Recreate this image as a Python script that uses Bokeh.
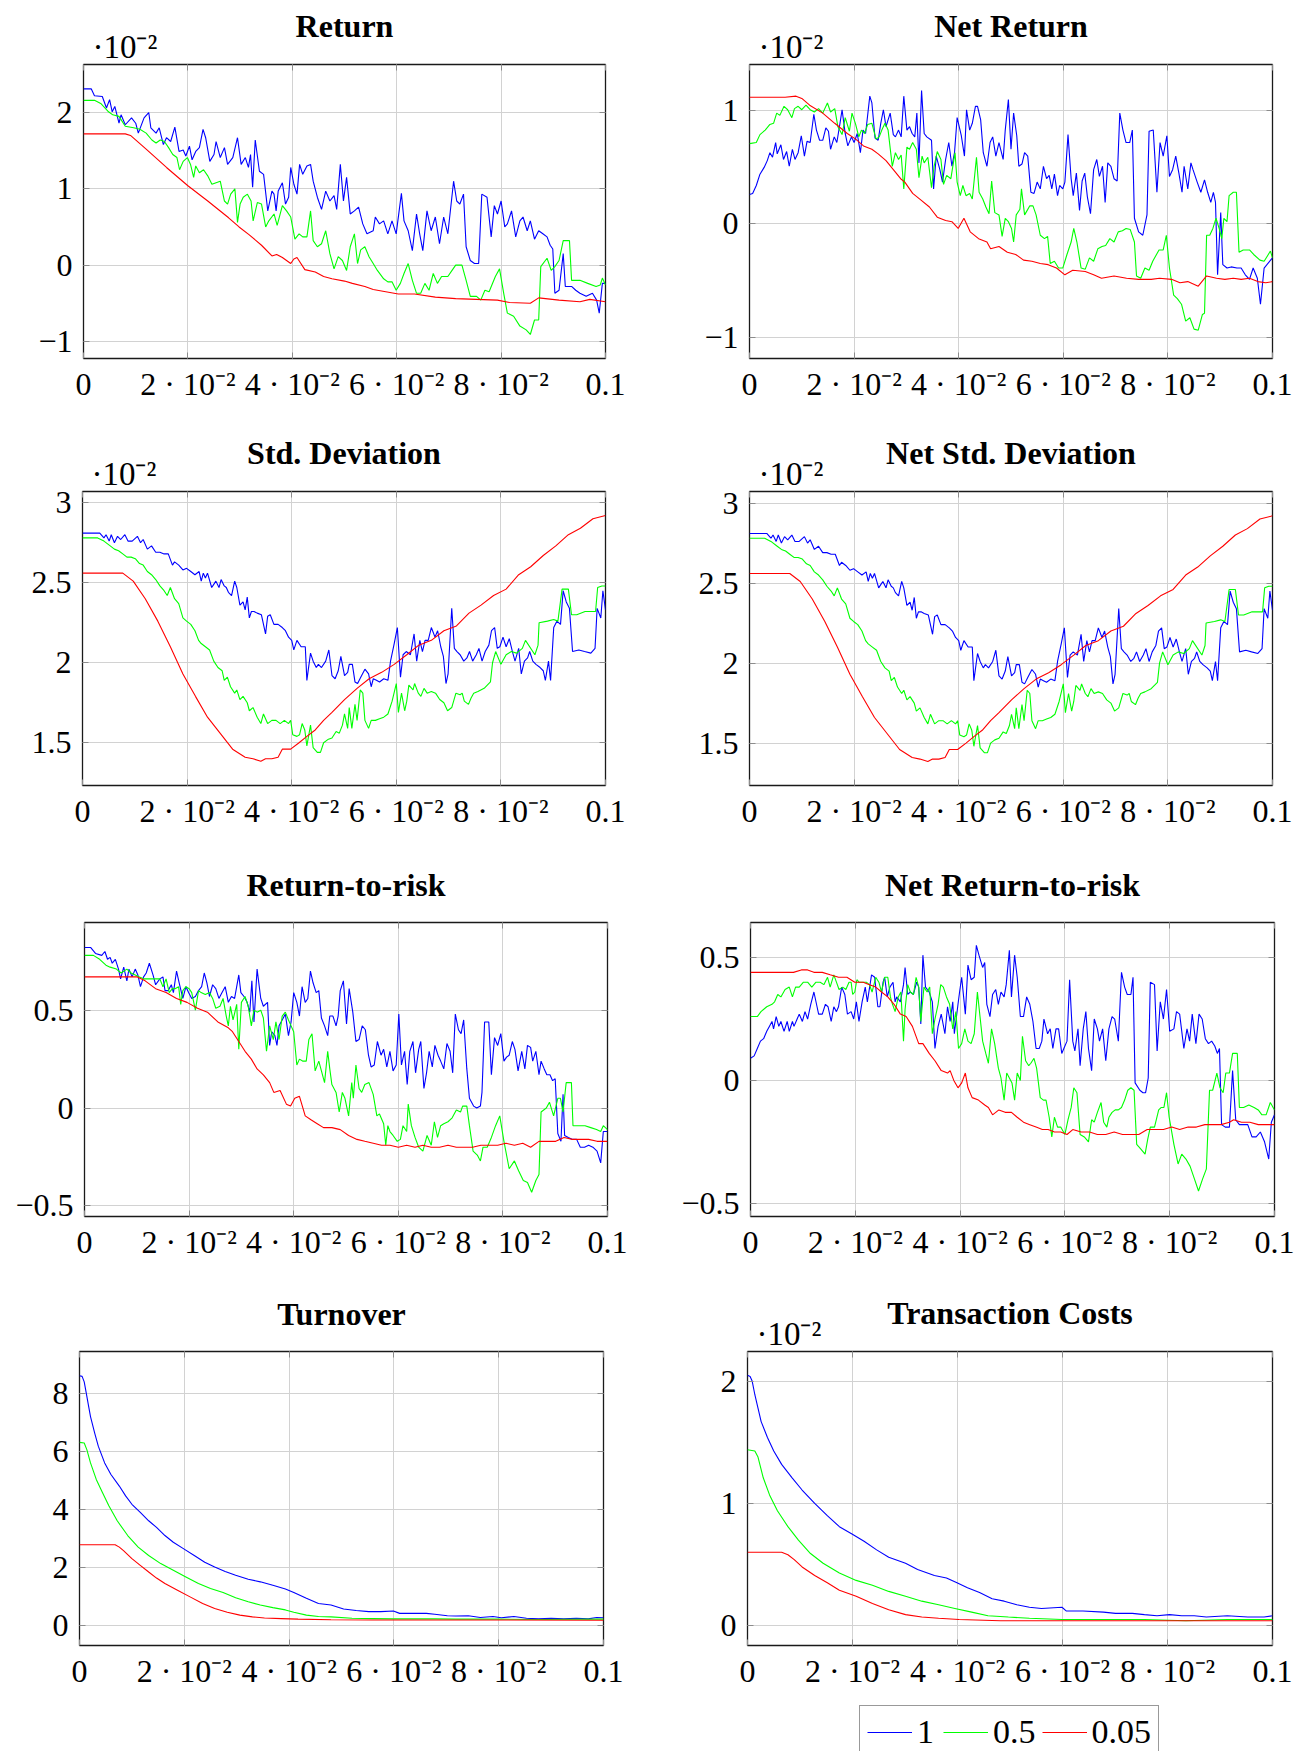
from bokeh.plotting import figure
from bokeh.models import Range1d, FixedTicker, Legend, LegendItem, LinearAxis, Title, Spacer
from bokeh.layouts import column, row
from bokeh.embed import file_html
from bokeh.resources import INLINE

FONT = "Liberation Serif"
BLUE, GREEN, RED = "#0000ff", "#00ff00", "#ff0000"

X_TICKS = [0, 0.02, 0.04, 0.06, 0.08, 0.1]
X_LABELS = ["0", "2 · 10⁻²", "4 · 10⁻²", "6 · 10⁻²", "8 · 10⁻²", "0.1"]
SERIES_NAMES = ["1", "0.5", "0.05"]
EXPONENT = "·10⁻²"

# ---- data: (x in thousandths, value as read on the axis) ----
RET_B = [(0,2.31),(1.5,2.31),(2.1,2.22),(3.6,2.21),(4.4,2.06),(5.0,2.17),(5.5,2.01),(6.0,2.08),(6.8,1.86),(7.2,1.97),(8.0,1.84),(9.2,1.93),(10.0,1.86),(10.5,1.73),(11.6,1.93),(12.5,2.00),(12.9,1.80),(13.9,1.73),(14.5,1.80),(15.3,1.58),(15.9,1.67),(16.7,1.62),(17.5,1.81),(18.3,1.49),(19.1,1.51),(19.6,1.43),(20.3,1.56),(20.8,1.38),(21.5,1.49),(22.2,1.54),(22.9,1.78),(23.4,1.67),(24.2,1.36),(25.0,1.45),(25.4,1.62),(26.2,1.41),(27.0,1.54),(27.6,1.32),(28.6,1.41),(29.5,1.67),(30.2,1.32),(31.0,1.41),(31.6,1.28),(32.0,1.45),(32.4,1.02),(32.9,1.64),(33.7,1.23),(34.5,1.19),(35.3,0.71),(36.1,0.97),(36.5,0.93),(36.9,0.71),(37.3,0.97),(38.1,1.08),(38.7,0.80),(39.3,0.89),(39.7,1.28),(40.3,1.06),(40.9,0.93),(41.4,1.32),(42.0,1.19),(42.8,1.30),(43.5,1.32),(44.0,1.10),(44.8,0.89),(45.6,0.73),(46.4,0.97),(47.2,0.84),(48.0,0.91),(48.5,0.73),(49.2,1.32),(49.8,0.84),(50.4,1.15),(51.1,0.67),(51.9,0.71),(52.7,0.76),(53.5,0.54),(54.3,0.41),(55.5,0.45),(55.9,0.63),(56.7,0.54),(57.5,0.58),(58.3,0.41),(59.1,0.58),(59.9,0.41),(60.9,0.94),(61.4,0.58),(62.2,0.45),(63.0,0.19),(63.8,0.67),(64.4,0.41),(65.0,0.19),(65.8,0.71),(66.6,0.45),(67.4,0.63),(68.2,0.28),(69.0,0.63),(69.8,0.41),(70.9,1.10),(71.5,0.84),(72.1,0.80),(72.8,0.93),(73.3,0.24),(74.1,0.06),(74.9,0.02),(75.7,0.02),(76.3,0.93),(77.3,0.89),(78.1,0.37),(78.7,0.78),(79.3,0.67),(80.0,0.84),(80.7,0.50),(81.2,0.54),(82.0,0.71),(82.8,0.37),(83.6,0.58),(84.2,0.63),(85.0,0.45),(85.6,0.58),(86.4,0.34),(87.2,0.45),(88.0,0.41),(88.8,0.37),(89.4,0.26),(89.9,0.21),(90.3,-0.37),(91.1,-0.33),(91.9,0.15),(92.3,-0.28),(93.5,-0.28),(94.3,-0.33),(95.1,-0.37),(96.3,-0.41),(97.5,-0.37),(98.3,-0.46),(98.8,-0.63),(99.4,-0.24),(100,-0.24)]
RET_G = [(0,2.16),(2.1,2.16),(3.3,2.12),(4.8,2.01),(5.6,1.97),(6.8,1.95),(8.0,1.82),(9.6,1.80),(10.8,1.78),(12.0,1.73),(13.1,1.64),(13.9,1.60),(14.7,1.64),(15.5,1.62),(16.3,1.54),(17.1,1.45),(17.9,1.41),(18.4,1.25),(19.1,1.36),(19.9,1.41),(20.5,1.32),(21.1,1.15),(21.5,1.30),(22.2,1.21),(23.0,1.25),(23.8,1.17),(24.6,1.06),(25.4,1.08),(26.2,1.10),(27.0,0.84),(27.6,0.80),(28.2,0.93),(29.0,1.00),(29.5,0.56),(30.0,0.80),(30.6,0.89),(31.4,0.93),(32.1,0.84),(32.5,0.58),(33.3,0.82),(34.1,0.80),(34.9,0.50),(35.5,0.58),(36.5,0.67),(37.1,0.52),(38.1,0.78),(38.9,0.71),(39.7,0.63),(40.5,0.34),(41.3,0.41),(42.0,0.37),(42.8,0.37),(43.5,0.71),(44.0,0.32),(44.8,0.24),(45.6,0.28),(46.4,0.45),(47.2,0.15),(48.0,-0.05),(48.8,0.11),(49.6,0.06),(50.4,-0.07),(51.1,0.24),(51.9,0.41),(52.5,0.02),(53.1,0.20),(53.9,0.24),(54.7,0.11),(55.5,0.02),(56.3,-0.07),(57.5,-0.18),(58.3,-0.22),(59.1,-0.22),(59.9,-0.33),(60.7,-0.24),(61.4,-0.11),(62.2,0.02),(63.0,-0.20),(63.8,-0.37),(64.6,-0.37),(65.4,-0.24),(66.2,-0.33),(67.0,-0.11),(67.8,-0.24),(68.6,-0.15),(69.8,-0.15),(70.6,-0.07),(71.3,0.00),(72.5,0.00),(73.3,-0.20),(74.1,-0.41),(75.3,-0.41),(76.1,-0.46),(76.9,-0.33),(77.7,-0.35),(78.9,-0.15),(79.7,-0.05),(80.5,-0.37),(81.2,-0.63),(82.4,-0.67),(83.6,-0.80),(84.8,-0.85),(85.6,-0.91),(86.4,-0.72),(87.2,-0.72),(87.6,-0.02),(88.8,0.09),(89.6,-0.07),(90.3,-0.02),(91.1,0.06),(91.9,0.32),(93.1,0.32),(93.5,-0.20),(95.1,-0.20),(96.6,-0.24),(98.2,-0.28),(99.0,-0.26),(99.4,-0.17),(100,-0.26)]
RET_R = [(0,1.72),(8.0,1.72),(9.0,1.70),(12.0,1.52),(15.9,1.28),(20.0,1.04),(23.8,0.84),(27.8,0.62),(29.8,0.50),(31.7,0.40),(34.1,0.26),(36.1,0.12),(37.0,0.14),(38.1,0.10),(39.7,0.02),(40.3,0.08),(40.9,0.10),(42.4,-0.06),(44.4,-0.09),(46.0,-0.15),(47.6,-0.18),(50.0,-0.21),(51.5,-0.24),(53.9,-0.28),(55.5,-0.32),(57.9,-0.35),(60.3,-0.38),(63.4,-0.38),(67.4,-0.42),(71.3,-0.44),(75.3,-0.45),(79.3,-0.46),(81.6,-0.49),(85.6,-0.50),(87.2,-0.43),(91.1,-0.46),(95.1,-0.48),(97.0,-0.45),(100,-0.48)]

NRET_B = [(0,0.26),(0.6,0.27),(1.3,0.34),(2.0,0.44),(2.8,0.50),(3.4,0.56),(3.9,0.63),(4.4,0.59),(5.0,0.72),(5.3,0.62),(6.0,0.70),(6.5,0.57),(7.1,0.64),(7.6,0.51),(8.2,0.66),(8.7,0.57),(9.3,0.63),(9.9,0.78),(10.5,0.60),(11.0,0.73),(11.6,0.72),(12.3,0.97),(12.8,0.83),(13.4,0.74),(14.0,0.74),(14.6,0.85),(15.1,0.82),(15.5,0.66),(16.2,0.77),(16.7,0.72),(17.3,0.89),(17.7,1.01),(18.3,0.80),(18.8,0.69),(19.5,0.77),(20.0,0.72),(20.6,0.80),(21.2,0.63),(21.7,0.83),(22.2,0.80),(23.0,1.13),(23.4,1.07),(24.0,0.76),(24.6,0.74),(25.1,0.89),(25.6,1.01),(26.1,0.86),(26.9,0.98),(27.5,0.79),(27.9,0.77),(28.5,0.83),(29.0,0.77),(29.5,1.13),(30.1,0.83),(30.6,0.86),(31.1,0.80),(31.6,0.77),(32.0,0.98),(32.4,0.54),(32.9,1.18),(33.4,0.80),(33.9,0.77),(34.8,0.74),(35.2,0.31),(35.7,0.60),(36.4,0.48),(36.9,0.37),(37.5,0.57),(38.1,0.72),(38.7,0.51),(39.2,0.63),(39.7,0.94),(40.5,0.78),(41.1,0.60),(41.5,1.01),(42.1,0.83),(42.6,0.89),(43.2,1.04),(43.6,1.04),(44.2,0.92),(44.7,0.63),(45.4,0.51),(46.0,0.72),(46.5,0.77),(47.1,0.60),(47.7,0.72),(48.5,0.57),(48.9,0.83),(49.5,1.10),(50.0,0.66),(50.5,0.98),(51.1,0.78),(51.5,0.51),(52.1,0.53),(52.6,0.63),(53.2,0.60),(53.8,0.28),(54.4,0.27),(55.0,0.37),(55.6,0.31),(56.2,0.51),(56.8,0.40),(57.3,0.43),(57.8,0.31),(58.3,0.44),(58.9,0.25),(59.3,0.34),(59.9,0.31),(60.3,0.37),(60.9,0.79),(61.5,0.40),(61.9,0.25),(62.5,0.45),(63.1,0.12),(63.6,0.38),(64.1,0.45),(64.6,0.24),(65.2,0.09),(65.8,0.48),(66.4,0.57),(66.9,0.42),(67.5,0.51),(68.0,0.19),(68.5,0.54),(69.1,0.51),(69.7,0.40),(70.3,0.38),(70.8,0.98),(71.4,0.83),(72.0,0.72),(72.7,0.72),(73.2,0.83),(73.6,0.05),(74.4,-0.07),(75.2,-0.10),(76.0,0.08),(76.4,0.82),(77.2,0.83),(77.9,0.28),(78.5,0.72),(79.1,0.60),(79.8,0.78),(80.3,0.42),(80.9,0.48),(81.5,0.60),(82.1,0.45),(82.7,0.28),(83.1,0.51),(83.8,0.31),(84.4,0.54),(84.8,0.48),(85.6,0.37),(86.3,0.28),(87.0,0.39),(87.6,0.28),(88.2,0.19),(88.7,0.28),(89.1,0.19),(89.5,-0.45),(90.1,0.10),(90.5,-0.36),(91.3,-0.39),(92.1,-0.38),(93.2,-0.39),(94.0,-0.39),(94.8,-0.45),(95.6,-0.49),(96.3,-0.39),(97.1,-0.48),(97.7,-0.71),(98.4,-0.39),(100,-0.30)]
NRET_G = [(0,0.71),(1.3,0.72),(2.0,0.79),(3.0,0.83),(3.9,0.88),(4.6,0.89),(5.2,0.98),(5.8,0.96),(6.6,1.04),(7.3,1.01),(8.1,0.94),(8.6,1.02),(9.3,1.04),(10.0,1.01),(10.8,1.05),(11.6,1.01),(12.4,0.99),(13.2,1.02),(14.0,0.98),(14.9,1.07),(15.5,0.99),(16.3,1.02),(16.9,0.86),(17.7,0.79),(18.3,0.94),(19.1,0.82),(19.6,0.98),(20.3,0.88),(20.9,0.77),(21.4,0.83),(22.0,0.80),(22.6,0.88),(23.4,0.89),(24.2,0.75),(24.8,0.77),(25.3,0.83),(25.9,0.89),(26.5,0.83),(27.3,0.51),(27.9,0.63),(28.5,0.57),(29.0,0.61),(29.5,0.31),(30.1,0.68),(30.6,0.66),(31.2,0.72),(31.9,0.66),(32.4,0.41),(33.0,0.60),(33.4,0.54),(34.1,0.59),(34.8,0.32),(35.3,0.51),(35.9,0.64),(36.6,0.57),(37.1,0.35),(37.7,0.43),(38.5,0.40),(39.3,0.63),(39.7,0.37),(40.3,0.25),(40.8,0.34),(41.4,0.25),(42.1,0.27),(42.6,0.22),(43.4,0.59),(43.9,0.28),(44.6,0.22),(45.2,0.15),(45.8,0.09),(46.3,0.38),(46.9,0.10),(47.7,0.08),(48.3,-0.11),(48.9,0.05),(49.5,0.02),(50.1,-0.04),(50.5,-0.16),(51.0,0.08),(51.7,0.13),(52.0,0.31),(52.6,0.08),(53.1,0.12),(53.6,0.16),(54.2,0.16),(54.8,0.08),(55.6,-0.10),(56.4,-0.13),(57.0,-0.11),(57.5,-0.35),(58.3,-0.33),(59.1,-0.39),(59.9,-0.39),(60.7,-0.27),(61.5,-0.16),(62.0,-0.04),(62.6,-0.16),(63.4,-0.39),(64.2,-0.40),(65.0,-0.30),(65.8,-0.33),(66.6,-0.22),(67.4,-0.20),(68.1,-0.19),(68.9,-0.13),(69.7,-0.16),(70.5,-0.07),(71.3,-0.06),(72.0,-0.04),(72.8,-0.05),(73.6,-0.16),(74.0,-0.46),(74.8,-0.48),(75.6,-0.39),(76.4,-0.41),(77.1,-0.33),(78.3,-0.23),(79.1,-0.23),(79.7,-0.10),(80.3,-0.39),(81.1,-0.63),(81.8,-0.66),(82.6,-0.71),(83.4,-0.86),(84.2,-0.83),(85.0,-0.93),(85.8,-0.94),(86.6,-0.80),(87.0,-0.79),(87.4,-0.10),(88.0,-0.10),(88.6,-0.04),(89.2,0.05),(89.8,-0.04),(90.3,-0.13),(90.7,0.05),(91.3,0.02),(91.7,0.25),(92.5,0.28),(93.1,0.28),(93.6,-0.25),(94.4,-0.23),(95.6,-0.23),(96.4,-0.27),(97.6,-0.32),(98.4,-0.33),(99.2,-0.27),(99.6,-0.24),(100,-0.30)]
NRET_R = [(0,1.12),(6.8,1.12),(8.9,1.13),(10.0,1.11),(11.5,1.05),(14.0,0.98),(16.3,0.89),(18.7,0.80),(20.3,0.75),(21.8,0.69),(23.4,0.66),(24.6,0.62),(26.1,0.56),(27.7,0.47),(28.9,0.40),(29.7,0.37),(31.2,0.27),(32.8,0.21),(34.4,0.15),(35.9,0.06),(37.5,0.03),(38.7,0.02),(39.9,-0.04),(41.0,0.05),(42.2,-0.07),(43.8,-0.13),(45.4,-0.16),(46.1,-0.22),(47.7,-0.20),(49.3,-0.25),(50.9,-0.27),(52.4,-0.32),(54.0,-0.33),(55.6,-0.35),(57.1,-0.36),(58.7,-0.39),(60.3,-0.45),(61.8,-0.41),(64.2,-0.42),(65.8,-0.45),(67.3,-0.48),(69.7,-0.46),(72.1,-0.48),(74.4,-0.49),(76.8,-0.49),(78.4,-0.48),(80.7,-0.49),(82.3,-0.52),(83.8,-0.51),(85.8,-0.55),(87.4,-0.46),(89.3,-0.48),(90.9,-0.49),(92.5,-0.48),(94.0,-0.49),(95.6,-0.48),(97.2,-0.51),(98.7,-0.52),(100,-0.51)]

STD_B = [(0,2.81),(3.3,2.81),(4.1,2.78),(4.5,2.80),(5.1,2.76),(5.5,2.80),(6.1,2.75),(6.7,2.79),(7.3,2.77),(8.1,2.80),(8.7,2.76),(9.5,2.76),(10.5,2.79),(11.1,2.75),(11.6,2.77),(12.4,2.71),(13.2,2.73),(14.0,2.69),(14.8,2.69),(15.6,2.68),(16.4,2.68),(17.2,2.61),(17.6,2.63),(18.4,2.61),(19.2,2.58),(19.9,2.59),(20.7,2.57),(21.5,2.55),(22.3,2.57),(22.7,2.51),(23.1,2.56),(23.5,2.53),(23.9,2.56),(24.7,2.47),(25.1,2.49),(25.5,2.51),(26.1,2.47),(26.5,2.52),(27.1,2.48),(27.5,2.47),(27.9,2.44),(28.5,2.42),(29.1,2.51),(29.5,2.47),(30.1,2.36),(30.7,2.38),(31.1,2.33),(31.5,2.41),(31.9,2.28),(32.3,2.32),(32.8,2.32),(33.4,2.31),(34.2,2.30),(35.0,2.18),(35.4,2.29),(35.9,2.30),(36.6,2.24),(37.4,2.24),(38.2,2.22),(38.8,2.20),(39.4,2.16),(40.0,2.14),(40.4,2.08),(41.0,2.14),(41.8,2.10),(42.6,2.10),(42.9,1.89),(43.6,2.06),(44.1,2.01),(44.7,1.97),(45.1,1.99),(45.7,1.97),(46.5,2.01),(47.1,2.08),(47.7,1.92),(48.3,1.90),(48.9,1.95),(49.4,2.04),(50.1,1.92),(50.7,1.94),(51.0,1.99),(51.6,1.99),(52.1,1.88),(52.6,1.87),(53.2,1.91),(54.0,1.96),(54.7,1.93),(55.2,1.85),(55.6,1.90),(56.2,1.89),(56.8,1.88),(57.6,1.90),(58.4,1.89),(58.9,2.01),(59.6,2.12),(60.2,2.22),(60.8,1.91),(61.3,2.05),(61.9,2.07),(62.7,2.05),(63.4,2.18),(63.9,2.01),(64.5,2.14),(65.0,2.07),(65.5,2.14),(66.1,2.14),(66.7,2.22),(67.4,2.16),(67.9,2.20),(68.5,2.10),(69.0,2.04),(69.5,1.87),(69.9,1.93),(70.6,2.34),(71.1,2.09),(71.6,2.07),(72.2,2.05),(72.9,2.01),(73.5,2.03),(74.0,2.07),(74.6,2.01),(75.3,2.05),(75.8,2.09),(76.4,2.01),(77.0,2.07),(77.7,2.11),(78.2,2.20),(78.8,2.22),(79.3,2.09),(79.8,2.10),(80.4,2.16),(81.0,2.10),(81.6,2.15),(82.2,2.07),(82.7,2.01),(83.4,2.09),(83.9,1.93),(84.5,2.01),(85.1,2.03),(85.5,2.07),(86.1,2.01),(86.7,1.99),(87.5,1.97),(88.1,1.95),(88.5,1.89),(89.1,2.01),(89.5,1.89),(90.1,2.22),(90.7,2.26),(91.4,2.24),(91.9,2.45),(92.5,2.38),(93.1,2.34),(93.7,2.07),(94.9,2.08),(96.0,2.07),(97.2,2.06),(98.0,2.09),(98.4,2.34),(99.1,2.28),(99.5,2.45),(100,2.33)]
STD_G = [(0,2.78),(2.9,2.78),(4.1,2.76),(5.3,2.73),(6.1,2.71),(6.9,2.70),(7.7,2.68),(8.5,2.66),(9.3,2.66),(10.1,2.65),(10.9,2.62),(11.6,2.61),(12.4,2.57),(13.2,2.55),(14.0,2.52),(14.8,2.48),(15.6,2.45),(16.2,2.42),(16.8,2.47),(17.6,2.40),(18.4,2.37),(19.2,2.28),(19.9,2.26),(20.7,2.24),(21.5,2.20),(22.2,2.14),(22.7,2.12),(23.5,2.10),(24.3,2.08),(25.1,2.01),(25.9,1.97),(26.7,1.95),(27.1,1.89),(27.7,1.91),(28.3,1.85),(29.1,1.81),(29.5,1.83),(30.1,1.77),(30.7,1.79),(31.5,1.75),(31.9,1.70),(32.6,1.72),(33.4,1.66),(34.1,1.62),(34.6,1.68),(35.4,1.62),(36.2,1.64),(37.0,1.64),(37.8,1.62),(38.6,1.64),(39.4,1.62),(39.8,1.64),(40.2,1.55),(41.0,1.54),(41.5,1.55),(42.0,1.62),(42.5,1.58),(42.9,1.48),(43.6,1.61),(44.1,1.47),(44.9,1.44),(45.5,1.44),(46.1,1.50),(46.9,1.52),(47.7,1.53),(48.5,1.57),(49.1,1.56),(49.7,1.61),(50.1,1.68),(50.7,1.59),(51.0,1.72),(51.5,1.59),(52.1,1.74),(52.5,1.64),(53.1,1.83),(53.6,1.81),(54.0,1.64),(54.7,1.59),(55.2,1.64),(56.0,1.64),(56.8,1.65),(57.6,1.66),(58.4,1.68),(59.2,1.76),(60.0,1.87),(60.4,1.69),(61.0,1.81),(61.6,1.70),(62.0,1.76),(62.4,1.86),(63.2,1.83),(63.5,1.87),(64.2,1.81),(64.7,1.79),(65.3,1.84),(65.9,1.81),(66.7,1.82),(67.5,1.81),(68.3,1.77),(69.1,1.75),(69.8,1.70),(70.6,1.72),(71.4,1.81),(72.2,1.80),(72.6,1.81),(73.0,1.76),(73.8,1.74),(74.3,1.78),(74.8,1.81),(75.6,1.82),(76.8,1.84),(78.0,1.88),(78.4,2.00),(79.0,2.07),(80.0,1.99),(81.0,2.05),(82.0,2.07),(83.0,2.06),(84.1,2.09),(84.7,2.14),(86.5,2.05),(87.1,2.11),(87.3,2.25),(88.9,2.26),(90.1,2.27),(90.9,2.26),(91.7,2.46),(92.9,2.46),(93.5,2.30),(94.5,2.30),(96.1,2.32),(97.3,2.32),(98.1,2.32),(98.5,2.47),(99.3,2.48),(100,2.48)]
STD_R = [(0,2.56),(7.7,2.56),(9.7,2.51),(12.0,2.40),(14.4,2.26),(16.8,2.10),(19.2,1.93),(21.6,1.79),(23.9,1.66),(26.3,1.56),(28.7,1.46),(31.1,1.41),(32.6,1.40),(34.1,1.385),(35.0,1.40),(36.2,1.40),(37.4,1.41),(38.2,1.46),(39.8,1.46),(41.4,1.50),(42.9,1.54),(44.5,1.58),(46.1,1.64),(47.7,1.69),(50.1,1.77),(52.5,1.84),(54.8,1.90),(57.2,1.94),(59.6,1.99),(62.0,2.05),(64.3,2.11),(66.7,2.14),(69.1,2.20),(71.5,2.23),(73.9,2.31),(76.2,2.36),(78.6,2.42),(81.0,2.46),(83.4,2.55),(85.7,2.60),(88.1,2.67),(90.5,2.73),(92.9,2.80),(95.2,2.84),(97.6,2.90),(100,2.92)]

# Net Std. Deviation reads the same as Std. Deviation at this resolution
NSTD_B = list(STD_B)
NSTD_G = list(STD_G)
NSTD_R = list(STD_R)

RTR_B = [(0,0.82),(1.2,0.82),(2.1,0.79),(3.3,0.78),(3.9,0.80),(4.4,0.76),(4.9,0.77),(5.3,0.74),(5.9,0.76),(6.5,0.71),(6.9,0.66),(7.5,0.72),(8.1,0.65),(8.5,0.71),(9.1,0.67),(9.7,0.71),(10.2,0.68),(10.7,0.62),(11.3,0.67),(11.8,0.69),(12.4,0.74),(13.1,0.68),(13.6,0.63),(14.4,0.66),(15.0,0.67),(15.4,0.60),(16.0,0.60),(16.6,0.63),(17.0,0.59),(17.6,0.70),(18.1,0.64),(18.8,0.56),(19.4,0.62),(19.9,0.59),(20.5,0.56),(21.2,0.57),(21.8,0.60),(22.4,0.62),(22.9,0.69),(23.4,0.64),(23.9,0.57),(24.5,0.63),(25.1,0.61),(25.7,0.56),(26.3,0.59),(26.9,0.62),(27.5,0.54),(28.1,0.57),(28.7,0.56),(29.5,0.68),(29.9,0.59),(30.5,0.57),(31.1,0.54),(31.6,0.49),(32.0,0.65),(32.4,0.44),(33.0,0.71),(33.7,0.56),(34.2,0.52),(35.0,0.54),(35.4,0.32),(35.8,0.39),(36.4,0.37),(36.8,0.32),(37.2,0.42),(37.8,0.45),(38.4,0.48),(39.0,0.37),(39.5,0.44),(40.0,0.59),(40.6,0.54),(41.1,0.47),(41.6,0.62),(42.2,0.54),(42.7,0.56),(43.2,0.70),(43.7,0.64),(44.3,0.59),(44.8,0.60),(45.3,0.46),(45.9,0.42),(46.5,0.37),(46.9,0.47),(47.5,0.47),(48.1,0.42),(48.5,0.47),(48.9,0.60),(49.5,0.65),(50.1,0.43),(50.6,0.61),(51.3,0.49),(51.9,0.34),(52.5,0.35),(53.1,0.42),(53.7,0.40),(54.3,0.27),(54.8,0.21),(55.4,0.22),(56.0,0.34),(56.7,0.27),(57.2,0.30),(57.8,0.21),(58.4,0.29),(59.0,0.19),(59.6,0.22),(60.1,0.48),(60.6,0.22),(61.2,0.29),(61.7,0.12),(62.2,0.29),(62.8,0.34),(63.3,0.18),(63.9,0.30),(64.3,0.34),(64.9,0.10),(65.4,0.18),(65.9,0.29),(66.5,0.21),(67.0,0.32),(67.6,0.27),(68.1,0.24),(68.7,0.20),(69.3,0.33),(69.9,0.29),(70.4,0.18),(70.9,0.48),(71.5,0.40),(72.0,0.38),(72.5,0.45),(73.1,0.20),(73.6,0.05),(74.4,0.01),(75.0,0.00),(75.7,0.01),(76.0,0.08),(76.5,0.44),(77.3,0.44),(77.8,0.17),(78.4,0.36),(79.0,0.32),(79.6,0.38),(80.2,0.24),(80.7,0.26),(81.2,0.27),(81.8,0.34),(82.3,0.30),(82.9,0.19),(83.6,0.29),(84.2,0.20),(84.7,0.32),(85.3,0.31),(85.7,0.24),(86.3,0.29),(86.9,0.17),(87.3,0.24),(87.9,0.20),(88.4,0.17),(89.0,0.17),(89.5,0.14),(90.0,0.15),(90.5,-0.13),(91.1,-0.17),(91.5,0.07),(91.8,-0.14),(92.5,-0.15),(93.3,-0.16),(94.1,-0.16),(94.8,-0.20),(95.6,-0.20),(96.4,-0.19),(97.2,-0.20),(98.0,-0.22),(98.7,-0.28),(99.2,-0.12),(100,-0.12)]
RTR_G = [(0,0.78),(1.7,0.78),(2.9,0.76),(4.1,0.73),(4.9,0.72),(6.1,0.71),(7.0,0.69),(8.1,0.71),(8.9,0.69),(9.7,0.68),(10.5,0.67),(11.3,0.66),(12.4,0.66),(13.6,0.66),(14.4,0.66),(15.0,0.62),(15.6,0.66),(16.2,0.59),(16.8,0.61),(17.3,0.61),(18.0,0.62),(18.4,0.53),(18.8,0.60),(19.4,0.62),(20.0,0.61),(20.5,0.59),(21.2,0.50),(21.8,0.60),(22.3,0.59),(23.1,0.58),(23.9,0.59),(24.5,0.56),(25.1,0.51),(25.9,0.52),(26.5,0.56),(27.1,0.47),(27.5,0.42),(27.9,0.52),(28.4,0.45),(29.1,0.53),(29.5,0.30),(30.0,0.54),(30.7,0.57),(31.3,0.52),(31.9,0.42),(32.4,0.50),(33.0,0.49),(33.7,0.50),(34.2,0.46),(34.8,0.29),(35.4,0.42),(36.1,0.35),(36.6,0.44),(37.2,0.35),(37.8,0.47),(38.4,0.49),(39.0,0.45),(39.5,0.42),(40.0,0.39),(40.6,0.22),(41.1,0.25),(41.7,0.24),(42.4,0.24),(42.9,0.35),(43.5,0.38),(44.1,0.19),(44.8,0.24),(45.3,0.19),(45.9,0.13),(46.5,0.29),(46.9,0.20),(47.3,0.12),(48.1,0.08),(48.7,-0.02),(49.3,0.08),(49.8,0.05),(50.5,-0.04),(51.1,0.13),(51.4,0.05),(51.9,0.22),(52.5,0.10),(53.0,0.08),(53.6,0.12),(54.4,0.13),(55.2,0.07),(55.9,-0.04),(56.4,-0.03),(57.2,-0.08),(57.6,-0.19),(58.0,-0.09),(58.4,-0.12),(59.0,-0.14),(59.8,-0.17),(60.4,-0.16),(60.9,-0.09),(61.6,-0.12),(61.9,0.02),(62.5,-0.09),(63.2,-0.15),(63.9,-0.20),(64.7,-0.22),(65.5,-0.14),(66.3,-0.19),(66.9,-0.07),(67.5,-0.15),(68.1,-0.09),(68.7,-0.08),(69.5,-0.07),(70.3,-0.05),(71.1,-0.01),(71.9,-0.02),(72.3,0.01),(73.1,0.01),(73.6,-0.09),(74.3,-0.22),(75.1,-0.24),(75.7,-0.27),(76.2,-0.20),(77.0,-0.20),(77.8,-0.15),(78.6,-0.09),(79.4,-0.04),(80.2,-0.17),(81.2,-0.31),(82.2,-0.27),(83.0,-0.32),(83.9,-0.37),(84.7,-0.38),(85.5,-0.43),(86.3,-0.37),(86.9,-0.34),(87.3,-0.02),(88.3,0.00),(88.9,0.03),(89.7,-0.04),(90.5,0.05),(91.0,0.05),(91.5,-0.02),(92.1,0.13),(93.1,0.13),(93.4,-0.09),(94.5,-0.09),(95.7,-0.09),(96.8,-0.10),(97.9,-0.11),(98.7,-0.12),(99.2,-0.09),(100,-0.11)]
RTR_R = [(0,0.67),(8.9,0.67),(10.1,0.67),(11.6,0.65),(13.6,0.61),(15.6,0.59),(17.6,0.56),(19.6,0.54),(21.6,0.51),(23.5,0.49),(25.5,0.44),(27.5,0.41),(28.3,0.39),(29.5,0.34),(30.7,0.29),(31.9,0.25),(33.0,0.20),(34.2,0.17),(35.4,0.13),(36.2,0.08),(37.4,0.09),(38.6,0.02),(39.4,0.01),(40.2,0.05),(41.1,0.06),(42.2,-0.04),(43.3,-0.06),(44.5,-0.08),(45.7,-0.10),(47.3,-0.10),(48.9,-0.11),(50.5,-0.14),(52.1,-0.16),(53.6,-0.17),(55.2,-0.18),(56.8,-0.19),(58.4,-0.19),(60.0,-0.20),(61.6,-0.19),(63.2,-0.20),(64.7,-0.19),(66.3,-0.20),(67.9,-0.20),(69.5,-0.19),(71.1,-0.20),(72.7,-0.20),(74.2,-0.20),(75.8,-0.19),(77.4,-0.19),(79.0,-0.19),(80.6,-0.18),(82.2,-0.19),(83.8,-0.18),(85.3,-0.20),(86.9,-0.17),(88.5,-0.17),(90.1,-0.17),(91.7,-0.15),(93.3,-0.16),(94.8,-0.16),(96.4,-0.16),(98.0,-0.17),(100,-0.17)]

NRTR_B = [(0,0.09),(0.7,0.10),(1.3,0.13),(1.9,0.16),(2.5,0.17),(3.1,0.20),(3.6,0.22),(4.1,0.24),(4.4,0.21),(4.9,0.26),(5.4,0.22),(5.8,0.24),(6.4,0.20),(7.0,0.24),(7.4,0.20),(8.0,0.24),(8.3,0.22),(8.9,0.25),(9.3,0.27),(9.9,0.24),(10.4,0.28),(10.9,0.25),(11.5,0.31),(12.1,0.36),(12.7,0.30),(13.0,0.27),(13.7,0.27),(14.3,0.31),(14.8,0.30),(15.4,0.24),(15.9,0.30),(16.4,0.28),(16.8,0.30),(17.4,0.38),(18.0,0.35),(18.5,0.27),(19.2,0.28),(19.7,0.25),(20.2,0.32),(20.7,0.24),(21.3,0.32),(21.9,0.38),(22.3,0.32),(23.1,0.43),(23.7,0.42),(24.3,0.30),(24.7,0.30),(25.3,0.40),(25.6,0.42),(26.1,0.34),(26.6,0.38),(27.2,0.40),(27.6,0.32),(27.9,0.34),(28.6,0.32),(29.2,0.39),(29.5,0.46),(30.0,0.35),(30.5,0.36),(31.1,0.35),(31.7,0.40),(32.1,0.38),(32.5,0.23),(32.9,0.51),(33.4,0.38),(34.1,0.36),(34.7,0.32),(35.2,0.13),(35.8,0.22),(36.4,0.27),(37.1,0.19),(37.6,0.30),(38.1,0.24),(38.6,0.32),(38.9,0.19),(39.6,0.31),(39.9,0.36),(40.3,0.42),(41.0,0.27),(41.5,0.47),(42.1,0.41),(42.7,0.42),(43.1,0.55),(43.6,0.51),(44.3,0.46),(44.7,0.48),(45.1,0.31),(45.7,0.26),(46.2,0.35),(46.8,0.37),(47.3,0.31),(47.8,0.36),(48.4,0.34),(48.8,0.39),(49.4,0.53),(49.8,0.34),(50.4,0.51),(50.9,0.42),(51.5,0.26),(52.1,0.26),(52.7,0.34),(53.3,0.31),(53.9,0.24),(54.5,0.13),(55.1,0.13),(55.6,0.16),(56.0,0.25),(56.7,0.19),(57.2,0.21),(57.7,0.13),(58.3,0.21),(58.8,0.21),(59.4,0.11),(59.8,0.13),(60.4,0.16),(60.9,0.41),(61.5,0.16),(61.9,0.12),(62.5,0.21),(62.9,0.06),(63.5,0.21),(64.0,0.28),(64.5,0.13),(65.1,0.04),(65.6,0.25),(66.2,0.21),(66.6,0.16),(67.2,0.21),(67.8,0.08),(68.4,0.21),(69.0,0.26),(69.5,0.25),(70.2,0.16),(70.8,0.44),(71.4,0.38),(71.9,0.35),(72.6,0.35),(73.0,0.42),(73.4,-0.01),(74.3,-0.04),(74.9,-0.05),(75.4,-0.05),(75.9,0.01),(76.3,0.40),(77.1,0.39),(77.6,0.12),(78.2,0.32),(78.8,0.25),(79.4,0.37),(80.0,0.20),(80.8,0.21),(81.3,0.28),(81.9,0.27),(82.7,0.13),(83.3,0.21),(83.8,0.16),(84.3,0.27),(85.0,0.15),(85.6,0.27),(86.2,0.25),(86.8,0.17),(87.4,0.15),(88.0,0.16),(88.6,0.14),(89.1,0.11),(89.5,0.13),(89.9,-0.18),(90.6,-0.19),(91.4,-0.19),(92.0,0.04),(92.6,-0.16),(93.3,-0.18),(94.1,-0.18),(94.9,-0.18),(95.7,-0.23),(96.5,-0.23),(97.3,-0.21),(98.1,-0.25),(98.9,-0.32),(99.4,-0.17),(100,-0.14)]
NRTR_G = [(0,0.26),(1.3,0.26),(2.0,0.28),(3.1,0.30),(4.1,0.31),(4.6,0.32),(5.2,0.35),(5.8,0.34),(6.6,0.37),(7.4,0.38),(8.0,0.34),(8.6,0.38),(9.3,0.38),(10.1,0.40),(10.9,0.40),(11.7,0.38),(12.5,0.40),(13.3,0.40),(14.0,0.39),(14.7,0.42),(15.2,0.38),(15.9,0.43),(16.4,0.40),(16.9,0.37),(17.6,0.38),(18.2,0.37),(18.8,0.40),(19.2,0.40),(19.5,0.35),(19.9,0.36),(20.3,0.41),(20.7,0.40),(21.5,0.40),(22.1,0.40),(22.7,0.39),(23.2,0.36),(23.9,0.42),(24.5,0.40),(25.0,0.36),(25.6,0.42),(26.2,0.42),(26.7,0.34),(27.1,0.31),(27.6,0.28),(28.2,0.34),(28.7,0.36),(29.2,0.16),(29.5,0.29),(30.0,0.39),(30.5,0.36),(31.1,0.35),(31.6,0.42),(32.1,0.38),(32.5,0.24),(33.1,0.38),(33.7,0.36),(34.2,0.38),(34.7,0.19),(35.2,0.25),(35.8,0.31),(36.3,0.39),(36.8,0.38),(37.4,0.34),(38.0,0.31),(38.6,0.21),(39.2,0.28),(39.7,0.13),(40.3,0.15),(40.9,0.21),(41.5,0.16),(42.1,0.15),(42.7,0.19),(43.3,0.36),(43.9,0.24),(44.3,0.16),(44.9,0.11),(45.4,0.07),(46.0,0.21),(46.6,0.15),(47.3,0.05),(47.8,0.01),(48.4,-0.08),(48.9,0.03),(49.4,0.01),(49.9,-0.01),(50.4,-0.08),(50.9,0.03),(51.5,0.00),(51.9,0.18),(52.5,0.08),(53.1,0.06),(53.5,0.07),(54.1,0.09),(54.6,0.05),(55.3,-0.07),(55.9,-0.08),(56.4,-0.08),(57.0,-0.15),(57.5,-0.23),(58.0,-0.15),(58.6,-0.19),(59.2,-0.19),(60.0,-0.22),(60.6,-0.16),(61.2,-0.11),(61.7,-0.03),(62.3,-0.05),(62.9,-0.22),(63.7,-0.23),(64.5,-0.25),(65.1,-0.16),(65.6,-0.17),(66.2,-0.13),(66.9,-0.09),(67.4,-0.17),(68.0,-0.19),(68.4,-0.15),(69.0,-0.13),(69.6,-0.12),(70.2,-0.12),(70.8,-0.11),(71.4,-0.08),(72.0,-0.04),(72.6,-0.03),(73.2,-0.04),(73.7,-0.26),(74.5,-0.28),(75.3,-0.30),(75.8,-0.24),(76.3,-0.19),(77.1,-0.19),(77.9,-0.12),(78.4,-0.11),(78.9,-0.11),(79.4,-0.05),(79.9,-0.15),(80.8,-0.26),(81.6,-0.34),(82.3,-0.30),(83.1,-0.32),(83.9,-0.35),(84.7,-0.40),(85.5,-0.45),(86.3,-0.40),(87.0,-0.36),(87.6,-0.04),(88.2,-0.04),(89.0,0.03),(89.6,-0.03),(90.2,-0.05),(90.7,0.03),(91.4,0.03),(92.0,0.11),(92.9,0.11),(93.3,-0.11),(94.1,-0.11),(95.1,-0.10),(96.1,-0.11),(96.9,-0.12),(97.6,-0.14),(98.4,-0.14),(99.2,-0.09),(100,-0.12)]
NRTR_R = [(0,0.44),(6.6,0.44),(8.2,0.44),(9.7,0.45),(10.9,0.45),(12.1,0.44),(13.7,0.44),(15.2,0.43),(16.8,0.42),(18.4,0.42),(19.9,0.40),(21.5,0.40),(22.7,0.39),(23.9,0.38),(25.0,0.36),(26.2,0.34),(27.4,0.31),(28.6,0.27),(29.7,0.26),(30.9,0.22),(32.1,0.15),(32.9,0.15),(34.1,0.11),(35.2,0.08),(36.4,0.04),(37.6,0.03),(38.1,0.04),(38.8,0.00),(39.6,-0.03),(40.3,-0.01),(41.0,0.03),(41.5,-0.03),(42.3,-0.07),(43.5,-0.08),(44.7,-0.10),(45.4,-0.11),(46.2,-0.14),(47.4,-0.12),(48.6,-0.13),(49.8,-0.13),(50.9,-0.15),(52.1,-0.17),(53.3,-0.18),(54.5,-0.19),(55.7,-0.20),(56.8,-0.20),(58.0,-0.21),(59.2,-0.21),(60.4,-0.22),(61.5,-0.20),(63.1,-0.21),(64.7,-0.21),(66.2,-0.22),(67.8,-0.22),(69.4,-0.21),(71.0,-0.22),(72.5,-0.22),(74.1,-0.22),(75.7,-0.20),(77.2,-0.20),(78.8,-0.20),(80.4,-0.19),(81.9,-0.20),(83.5,-0.19),(85.1,-0.19),(86.7,-0.18),(88.2,-0.18),(89.8,-0.18),(91.4,-0.17),(92.2,-0.16),(93.7,-0.17),(95.3,-0.17),(96.9,-0.18),(98.4,-0.18),(100,-0.18)]

TURN_B = [(0,8.62),(0.5,8.60),(0.9,8.41),(1.3,8.01),(1.7,7.61),(2.1,7.21),(2.9,6.64),(3.6,6.18),(4.8,5.61),(6.0,5.21),(7.6,4.81),(8.8,4.47),(10.0,4.18),(11.6,3.90),(13.2,3.61),(14.7,3.38),(16.3,3.10),(17.9,2.87),(19.9,2.64),(21.9,2.41),(23.9,2.18),(25.8,2.01),(27.8,1.86),(29.8,1.73),(32.2,1.59),(34.5,1.50),(36.9,1.38),(39.3,1.25),(40.9,1.13),(43.3,0.93),(45.6,0.75),(48.0,0.70),(50.4,0.56),(52.8,0.51),(55.2,0.47),(57.5,0.47),(59.9,0.49),(61.1,0.41),(63.9,0.41),(66.2,0.41),(67.8,0.38),(70.2,0.33),(71.8,0.32),(74.2,0.33),(76.5,0.27),(78.9,0.30),(80.5,0.26),(82.9,0.30),(85.3,0.24),(87.6,0.22),(90.0,0.24),(92.4,0.22),(94.8,0.24),(97.1,0.22),(98.7,0.27),(100,0.26)]
TURN_G = [(0,6.32),(0.9,6.30),(1.4,6.07),(2.1,5.61),(3.2,5.04),(4.4,4.58),(5.6,4.13),(7.2,3.61),(9.2,3.10),(11.2,2.70),(13.2,2.41),(15.5,2.13),(17.9,1.90),(20.3,1.67),(22.7,1.44),(25.0,1.27),(27.4,1.13),(29.8,0.95),(32.2,0.81),(34.5,0.70),(36.9,0.61),(39.3,0.53),(40.9,0.45),(43.3,0.35),(45.6,0.30),(48.0,0.29),(52.0,0.24),(55.9,0.23),(59.9,0.22),(63.9,0.22),(67.8,0.22),(71.8,0.21),(79.7,0.21),(87.6,0.20),(100,0.21)]
TURN_R = [(0,2.78),(6.8,2.78),(7.6,2.70),(8.4,2.58),(10.0,2.30),(11.6,2.07),(13.2,1.84),(14.7,1.63),(16.3,1.44),(18.7,1.21),(21.1,0.98),(23.5,0.75),(25.8,0.58),(28.2,0.45),(30.6,0.35),(33.0,0.29),(35.3,0.25),(38.5,0.23),(41.7,0.21),(48.0,0.19),(55.9,0.18),(63.9,0.18),(79.7,0.18),(100,0.17)]

TC_B = [(0,2.05),(0.5,2.04),(0.9,2.00),(1.4,1.89),(2.0,1.78),(2.6,1.67),(3.8,1.54),(5.0,1.43),(6.5,1.32),(8.5,1.21),(10.4,1.11),(12.8,1.00),(15.2,0.90),(17.5,0.81),(19.9,0.75),(22.2,0.69),(24.6,0.62),(26.9,0.56),(30.1,0.51),(32.4,0.46),(35.6,0.41),(37.9,0.39),(39.9,0.35),(41.9,0.31),(44.2,0.27),(46.6,0.22),(48.9,0.20),(51.3,0.17),(53.7,0.15),(56.0,0.14),(59.9,0.15),(60.7,0.12),(63.9,0.12),(67.8,0.11),(70.1,0.10),(73.3,0.10),(75.6,0.09),(78.0,0.08),(80.4,0.09),(82.7,0.08),(85.1,0.08),(87.4,0.07),(91.4,0.08),(95.3,0.07),(98.4,0.07),(100,0.08)]
TC_G = [(0,1.44),(1.4,1.43),(2.0,1.38),(3.0,1.21),(4.2,1.07),(5.7,0.94),(7.7,0.81),(9.7,0.70),(12.0,0.59),(14.4,0.51),(17.5,0.43),(20.7,0.37),(23.8,0.33),(26.9,0.28),(30.1,0.24),(33.2,0.20),(36.4,0.17),(39.5,0.14),(42.7,0.11),(45.8,0.08),(49.7,0.07),(53.7,0.06),(59.9,0.05),(67.8,0.05),(75.6,0.05),(83.5,0.04),(91.4,0.05),(100,0.05)]
TC_R = [(0,0.60),(6.5,0.60),(7.7,0.58),(8.9,0.54),(10.4,0.48),(12.8,0.41),(15.2,0.35),(17.5,0.29),(20.7,0.24),(23.8,0.18),(26.9,0.13),(30.1,0.09),(33.2,0.07),(36.4,0.06),(40.3,0.05),(48.2,0.04),(59.9,0.04),(75.6,0.04),(100,0.04)]

PANELS = [
    ("Return", (RET_B, RET_G, RET_R), (-1.225, 2.63), [-1, 0, 1, 2], True),
    ("Net Return", (NRET_B, NRET_G, NRET_R), (-1.19, 1.41), [-1, 0, 1], True),
    ("Std. Deviation", (STD_B, STD_G, STD_R), (1.233, 3.07), [1.5, 2, 2.5, 3], True),
    ("Net Std. Deviation", (NSTD_B, NSTD_G, NSTD_R), (1.235, 3.072), [1.5, 2, 2.5, 3], True),
    ("Return-to-risk", (RTR_B, RTR_G, RTR_R), (-0.554, 0.948), [-0.5, 0, 0.5], False),
    ("Net Return-to-risk", (NRTR_B, NRTR_G, NRTR_R), (-0.554, 0.643), [-0.5, 0, 0.5], False),
    ("Turnover", (TURN_B, TURN_G, TURN_R), (-0.70, 9.46), [0, 2, 4, 6, 8], False),
    ("Transaction Costs", (TC_B, TC_G, TC_R), (-0.163, 2.244), [0, 1, 2], True),
]

# layout (pixels): per row (height, top border, bottom border); per row (left, right) borders
ROWS = [(427, 64, 69), (417, 64, 59), (429, 78, 57), (432, 78, 60)]
COLS_LEFT = [(83, 42), (82, 42), (84, 40), (79, 44)]
COLS_RIGHT = [(102, 22), (102, 22), (103, 20), (100, 22)]
TICK_COLOR = "#8c8c8c"


def fmt(v):
    return ("%g" % v).replace("-", "\u2212")


def mirror_axis(ticks):
    # tick marks only, drawn inward on the opposite edge
    return LinearAxis(ticker=FixedTicker(ticks=ticks), major_label_text_font_size="1px",
                      major_label_text_color=None, major_tick_in=6, major_tick_out=0,
                      major_tick_line_color=TICK_COLOR, minor_tick_line_color=None,
                      axis_line_color=None, major_label_standoff=0)


def make_panel(idx, title, series, yr, yticks, exponent):
    r = idx // 2
    h, bt, bb = ROWS[r]
    bl, br = (COLS_LEFT if idx % 2 == 0 else COLS_RIGHT)[r]
    p = figure(width=647, height=h, output_backend="svg", toolbar_location=None,
               x_range=Range1d(0, 0.1), y_range=Range1d(*yr),
               min_border_left=bl, min_border_right=br,
               min_border_top=bt, min_border_bottom=bb)
    p.background_fill_color = "white"
    p.border_fill_color = "white"
    p.outline_line_color = "#1a1a1a"
    p.outline_line_width = 1.3

    # the labelled axes, taken before any extra axes are added
    xa = p.below[0]
    ya = p.left[0]
    xa.ticker = FixedTicker(ticks=X_TICKS)
    xa.major_label_overrides = {t: l for t, l in zip(X_TICKS, X_LABELS)}
    ya.ticker = FixedTicker(ticks=yticks)
    ya.major_label_overrides = {t: fmt(t) for t in yticks}
    for ax in (xa, ya):
        ax.major_label_text_font = FONT
        ax.major_label_text_font_size = "32px"
        ax.major_label_text_color = "black"
        ax.axis_line_color = None
        ax.major_tick_in = 6
        ax.major_tick_out = 0
        ax.major_tick_line_color = TICK_COLOR
        ax.minor_tick_line_color = None
    xa.major_label_standoff = 7
    ya.major_label_standoff = 11

    # mirrored ticks first so they sit against the frame
    p.add_layout(mirror_axis(X_TICKS), "above")
    p.add_layout(mirror_axis(yticks), "right")

    if exponent:
        # scale factor sits nearest the frame, the bold title above it
        p.add_layout(Title(text=EXPONENT, align="left", offset=9, standoff=0,
                           text_font=FONT, text_font_size="33px", text_font_style="normal",
                           text_color="black"), "above")
        main_standoff = -34
    else:
        main_standoff = 40
    p.add_layout(Title(text=title, align="center", standoff=main_standoff,
                       text_font=FONT, text_font_size="32px", text_font_style="bold",
                       text_color="black"), "above")

    p.xgrid.ticker = FixedTicker(ticks=X_TICKS)
    p.ygrid.ticker = FixedTicker(ticks=yticks)
    p.grid.grid_line_color = "#d2d2d2"
    p.grid.grid_line_width = 1

    for pts, col in zip(series, (BLUE, GREEN, RED)):
        xs = [a / 1000.0 for a, _ in pts]
        ys = [b for _, b in pts]
        p.line(xs, ys, line_color=col, line_width=1.1)
    return p


figs = [make_panel(i, t, s, yr, yt, ex) for i, (t, s, yr, yt, ex) in enumerate(PANELS)]

# legend strip under the right-hand column; its sample lines use the
# Transaction Costs series, placed outside the strip's visible range
lf = figure(width=647, height=46, output_backend="svg", toolbar_location=None,
            x_axis_location=None, y_axis_location=None,
            x_range=Range1d(1.0, 2.0), y_range=Range1d(10.0, 11.0),
            min_border_left=77, min_border_right=0, min_border_top=0, min_border_bottom=0)
lf.outline_line_color = None
lf.grid.visible = False
lf.background_fill_color = "white"
lf.border_fill_color = "white"
leg_rends = []
for pts, col in zip((TC_B, TC_G, TC_R), (BLUE, GREEN, RED)):
    leg_rends.append(lf.line([a / 1000.0 for a, _ in pts], [b for _, b in pts],
                             line_color=col, line_width=1.1))
legend = Legend(items=[LegendItem(label=n, renderers=[r]) for n, r in zip(SERIES_NAMES, leg_rends)],
                orientation="horizontal", location="top_center",
                label_text_font=FONT, label_text_font_size="34px", label_text_color="black",
                glyph_width=45, glyph_height=30, label_standoff=5, spacing=6,
                padding=7, margin=0, border_line_color="#333333", border_line_width=1.2,
                background_fill_color="white")
lf.add_layout(legend, "center")

layout = column(row(figs[0], figs[1]), row(figs[2], figs[3]),
                row(figs[4], figs[5]), row(figs[6], figs[7]),
                row(Spacer(width=647, height=46), lf))

open("out.html", "w").write(file_html(layout, INLINE))
